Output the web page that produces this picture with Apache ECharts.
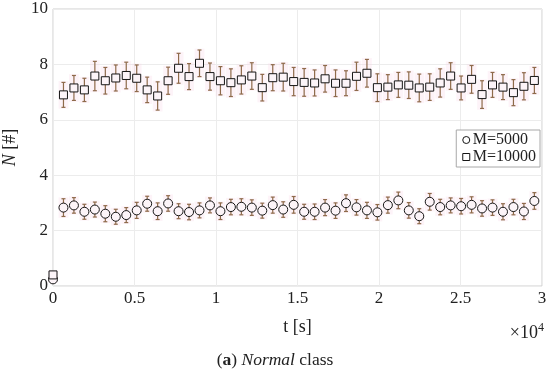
<!DOCTYPE html>
<html>
<head>
<meta charset="utf-8">
<script src="https://cdn.jsdelivr.net/npm/echarts@6/dist/echarts.min.js"></script>
<style>
html,body{margin:0;padding:0;background:#fff;}
#chart{width:550px;height:369px;}
</style>
</head>
<body>
<div id="chart"></div>
<script>
// time stamps [s]
var times = [0, 642, 1284, 1926, 2568, 3210, 3852, 4494, 5136, 5778, 6420, 7062, 7704, 8346, 8988, 9630,
  10272, 10914, 11556, 12198, 12840, 13482, 14124, 14766, 15408, 16050, 16692, 17334, 17976, 18618, 19260,
  19902, 20544, 21186, 21828, 22470, 23112, 23754, 24396, 25038, 25680, 26322, 26964, 27606, 28248, 28890, 29532];

// M=5000 (circles)
var m5000Values = [0.24,
  2.83, 2.91, 2.68, 2.76, 2.61, 2.50, 2.56, 2.73, 2.97, 2.70, 2.98, 2.70, 2.67, 2.73, 2.91, 2.70,
  2.85, 2.86, 2.83, 2.72, 2.92, 2.76, 2.93, 2.68, 2.68, 2.83, 2.72, 2.99, 2.84, 2.73,
  2.66, 2.92, 3.09, 2.73, 2.52, 3.04, 2.85, 2.91, 2.88, 2.93, 2.80, 2.83, 2.68, 2.85, 2.69, 3.07];
var m5000Err = [0.08,
  0.32, 0.28, 0.27, 0.27, 0.29, 0.27, 0.27, 0.29, 0.27, 0.30, 0.28, 0.27, 0.28, 0.27, 0.27, 0.30,
  0.28, 0.29, 0.28, 0.27, 0.29, 0.28, 0.30, 0.27, 0.28, 0.29, 0.28, 0.30, 0.28, 0.29,
  0.28, 0.29, 0.30, 0.28, 0.27, 0.30, 0.28, 0.27, 0.28, 0.29, 0.28, 0.28, 0.29, 0.28, 0.29, 0.30];

// M=10000 (squares)
var m10000Values = [0.40,
  6.90, 7.15, 7.08, 7.58, 7.41, 7.51, 7.60, 7.50, 7.08, 6.86, 7.41, 7.86, 7.56, 8.04, 7.56, 7.41,
  7.34, 7.44, 7.58, 7.16, 7.52, 7.54, 7.38, 7.35, 7.33, 7.48, 7.32, 7.32, 7.57, 7.68, 7.16,
  7.18, 7.26, 7.25, 7.15, 7.18, 7.33, 7.58, 7.15, 7.46, 6.91, 7.26, 7.18, 6.98, 7.21, 7.42];
var m10000Err = [0.12,
  0.45, 0.45, 0.42, 0.53, 0.48, 0.47, 0.48, 0.48, 0.46, 0.51, 0.49, 0.54, 0.47, 0.48, 0.49, 0.51,
  0.50, 0.51, 0.48, 0.48, 0.47, 0.50, 0.51, 0.50, 0.47, 0.48, 0.48, 0.45, 0.51, 0.50, 0.50,
  0.45, 0.45, 0.48, 0.50, 0.48, 0.51, 0.48, 0.43, 0.50, 0.50, 0.45, 0.45, 0.47, 0.49, 0.47];

var xTicks = ['0', '0.5', '1', '1.5', '2', '2.5', '3'];
var yTicks = ['0', '2', '4', '6', '8', '10'];
var seriesNames = ['M=5000', 'M=10000'];

var SERIF = '"Liberation Serif", "DejaVu Serif", serif';
var ERR_COLOR = '#8e6a4a';
var MARK_COLOR = '#151515';
var MARK_FILL = '#fcf4f8';

function pts(vals) { return times.map(function (t, i) { return [t, vals[i]]; }); }
function errData(vals, errs) { return times.map(function (t, i) { return [t, vals[i] - errs[i], vals[i] + errs[i]]; }); }

function renderErr(params, api) {
  var x = api.value(0);
  var lo = api.coord([x, api.value(1)]);
  var hi = api.coord([x, api.value(2)]);
  var cw = 2;
  var st = { stroke: ERR_COLOR, lineWidth: 1.2 };
  return {
    type: 'group',
    children: [
      { type: 'line', shape: { x1: lo[0], y1: lo[1], x2: hi[0], y2: hi[1] }, style: st },
      { type: 'line', shape: { x1: lo[0] - cw, y1: lo[1], x2: lo[0] + cw, y2: lo[1] }, style: st },
      { type: 'line', shape: { x1: hi[0] - cw, y1: hi[1], x2: hi[0] + cw, y2: hi[1] }, style: st }
    ]
  };
}
function renderBand(params, api) {
  var x = api.value(0);
  var half = 300;
  var p1 = api.coord([x - half, api.value(2) + 0.05]);
  var p2 = api.coord([x + half, api.value(1) - 0.05]);
  return {
    type: 'rect',
    shape: { x: p1[0], y: p1[1], width: p2[0] - p1[0], height: p2[1] - p1[1] },
    style: { fill: 'rgba(248,212,230,0.28)' }
  };
}

var chart = echarts.init(document.getElementById('chart'), null, { renderer: 'canvas' });
chart.setOption({
  animation: false,
  backgroundColor: '#ffffff',
  grid: {
    left: 53, right: 8, top: 9, bottom: 83, outerBoundsMode: 'none', containLabel: false,
    show: true, borderColor: '#cfcfcf', borderWidth: 1, backgroundColor: 'transparent'
  },
  xAxis: {
    type: 'value', min: 0, max: 30000, interval: 5000,
    axisLine: { show: false }, axisTick: { show: false },
    splitLine: { show: true, lineStyle: { color: '#ececec', width: 1 } },
    axisLabel: {
      margin: 4, color: '#222', fontFamily: SERIF, fontSize: 17,
      formatter: function (v) { return xTicks[Math.round(v / 5000)]; }
    },
    name: 't [s]', nameLocation: 'middle', nameGap: 32,
    nameTextStyle: { color: '#222', fontFamily: SERIF, fontSize: 18 }
  },
  yAxis: {
    type: 'value', min: 0, max: 10, interval: 2,
    axisLine: { show: false }, axisTick: { show: false },
    splitLine: { show: true, lineStyle: { color: '#ececec', width: 1 } },
    axisLabel: {
      margin: 5, color: '#222', fontFamily: SERIF, fontSize: 17,
      formatter: function (v) { return yTicks[Math.round(v / 2)]; }
    },
    name: '{i|N} [#]', nameLocation: 'middle', nameGap: 34, nameRotate: 90,
    nameTextStyle: {
      color: '#222', fontFamily: SERIF, fontSize: 18,
      rich: { i: { fontStyle: 'italic', fontFamily: SERIF, fontSize: 18, color: '#222' } }
    }
  },
  legend: {
    data: [
      { name: seriesNames[0], icon: 'circle', itemStyle: { color: '#fff', borderColor: MARK_COLOR, borderWidth: 1 } },
      { name: seriesNames[1], icon: 'rect', itemStyle: { color: '#fff', borderColor: MARK_COLOR, borderWidth: 1 } }
    ],
    orient: 'vertical', right: 10, top: 130,
    itemWidth: 7, itemHeight: 7, itemGap: 1,
    padding: [2, 4, 2, 6],
    borderColor: '#a8a8a8', borderWidth: 1, backgroundColor: '#fff',
    textStyle: { color: '#222', fontFamily: SERIF, fontSize: 16, padding: [0, 0, 0, -2] }
  },
  series: [
    { name: 'band5000', type: 'custom', renderItem: renderBand, data: errData(m5000Values, m5000Err), encode: { x: 0, y: [1, 2] }, z: 1, silent: true },
    { name: 'band10000', type: 'custom', renderItem: renderBand, data: errData(m10000Values, m10000Err), encode: { x: 0, y: [1, 2] }, z: 1, silent: true },
    { name: 'err5000', type: 'custom', renderItem: renderErr, data: errData(m5000Values, m5000Err), encode: { x: 0, y: [1, 2] }, z: 2, clip: false, silent: true },
    { name: 'err10000', type: 'custom', renderItem: renderErr, data: errData(m10000Values, m10000Err), encode: { x: 0, y: [1, 2] }, z: 2, clip: false, silent: true },
    {
      name: seriesNames[0], type: 'scatter', data: pts(m5000Values), symbol: 'circle', symbolSize: 9, z: 3, clip: false,
      itemStyle: { color: MARK_FILL, borderColor: MARK_COLOR, borderWidth: 1, opacity: 1 }
    },
    {
      name: seriesNames[1], type: 'scatter', data: pts(m10000Values), symbol: 'rect', symbolSize: 8, z: 3, clip: false,
      itemStyle: { color: MARK_FILL, borderColor: MARK_COLOR, borderWidth: 1, opacity: 1 }
    }
  ],
  graphic: [
    {
      type: 'text', right: 6, top: 322,
      style: {
        text: '×10{s|4}', fill: '#222', font: '18px ' + SERIF,
        rich: { s: { fontSize: 12, fontFamily: SERIF, verticalAlign: 'top', padding: [0, 0, 10, 0], fill: '#222' } }
      }
    },
    {
      type: 'text', left: 'center', top: 351,
      style: {
        text: '({b|a}) {i|Normal} class', fill: '#222', font: '17.5px ' + SERIF,
        rich: {
          b: { fontWeight: 'bold', fontSize: 17.5, fontFamily: SERIF, fill: '#222' },
          i: { fontStyle: 'italic', fontSize: 17.5, fontFamily: SERIF, fill: '#222' }
        }
      }
    }
  ]
});
</script>
</body>
</html>
